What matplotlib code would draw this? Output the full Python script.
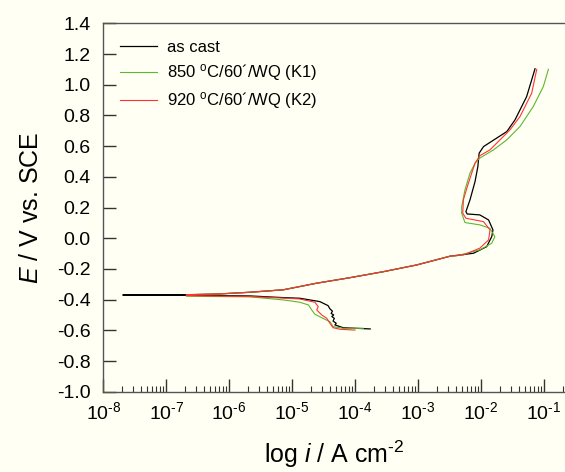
import numpy as np
import matplotlib
matplotlib.use("Agg")
import matplotlib.pyplot as plt
from matplotlib.ticker import LogLocator, NullFormatter, FixedLocator, FuncFormatter

plt.rcParams['font.family'] = ['Liberation Sans', 'DejaVu Sans']
plt.rcParams['mathtext.fontset'] = 'custom'
plt.rcParams['mathtext.rm'] = 'Liberation Sans'
plt.rcParams['mathtext.it'] = 'Liberation Sans:italic'

# log10(i / A cm-2) and E / V vs. SCE
common_anodic_log = [-6.68, -6.20, -5.67, -5.14, -4.61, -4.08, -3.55, -3.02, -2.49]
common_anodic_E = [-0.368, -0.364, -0.352, -0.336, -0.293, -0.257, -0.218, -0.174, -0.117]

cast_cath_log = [-3.76, -4.19, -4.32, -4.30, -4.35, -4.33, -4.37, -4.34, -4.38, -4.36,
                 -4.40, -4.43, -4.56, -4.88, -5.14, -5.67, -6.68, -7.69]
cast_cath_E = [-0.591, -0.583, -0.565, -0.554, -0.540, -0.522, -0.510, -0.500, -0.490, -0.475,
               -0.460, -0.439, -0.413, -0.391, -0.387, -0.376, -0.372, -0.370]
cast_an_log = [-2.12, -1.91, -1.83, -1.81, -1.88, -2.02, -2.22, -2.24, -2.175, -2.095,
               -2.05, -2.03, -1.96, -1.59, -1.46, -1.275, -1.142]
cast_an_E = [-0.098, -0.055, 0.010, 0.054, 0.119, 0.152, 0.158, 0.173, 0.250, 0.369,
             0.467, 0.554, 0.597, 0.695, 0.771, 0.923, 1.104]

k1_cath_log = [-3.87, -4.19, -4.35, -4.40, -4.51, -4.64, -4.69, -4.74, -4.88, -5.14, -5.67, -6.68]
k1_cath_E = [-0.587, -0.587, -0.576, -0.544, -0.522, -0.495, -0.467, -0.435, -0.417, -0.402,
             -0.382, -0.378]
k1_an_log = [-2.39, -2.02, -1.83, -1.78, -1.86, -2.02, -2.255, -2.307, -2.307, -2.255,
             -2.175, -2.095, -2.02, -1.80, -1.59, -1.38, -1.17, -1.01, -0.93]
k1_an_E = [-0.115, -0.076, -0.033, 0.010, 0.065, 0.087, 0.102, 0.163, 0.206, 0.315,
           0.424, 0.489, 0.522, 0.576, 0.641, 0.728, 0.858, 0.988, 1.100]

k2_cath_log = [-4.00, -4.03, -4.24, -4.35, -4.40, -4.45, -4.53, -4.61, -4.585, -4.64,
               -4.88, -5.14, -5.67, -6.68]
k2_cath_E = [-0.598, -0.598, -0.593, -0.583, -0.554, -0.522, -0.500, -0.467, -0.446, -0.417,
             -0.396, -0.390, -0.380, -0.374]
k2_an_log = [-2.28, -2.02, -1.88, -1.857, -1.96, -2.24, -2.29, -2.28, -2.218, -2.148,
             -2.095, -2.02, -1.857, -1.54, -1.38, -1.195, -1.115]
k2_an_E = [-0.109, -0.065, -0.011, 0.054, 0.108, 0.130, 0.163, 0.250, 0.336, 0.424,
           0.489, 0.537, 0.576, 0.706, 0.793, 0.945, 1.100]

labels = ['as cast', r'850 $^{\mathrm{o}}$C/60´/WQ (K1)', r'920 $^{\mathrm{o}}$C/60´/WQ (K2)']
colors = ['black', '#5cb82e', '#ff3333']

yticks = np.round(np.arange(-1.0, 1.41, 0.2), 1)
ytick_labels = [f'{abs(v):.1f}' if abs(v) < 1e-9 else f'{v:.1f}' for v in yticks]

fig = plt.figure(figsize=(5.65, 4.72), dpi=100)
bg = '#fffff3'
fig.patch.set_facecolor(bg)
ax = fig.add_axes([0.1828, 0.1701, 0.8172, 0.7805])
ax.set_facecolor(bg)

curves = [
    (cast_cath_log, cast_cath_E, cast_an_log, cast_an_E),
    (k1_cath_log, k1_cath_E, k1_an_log, k1_an_E),
    (k2_cath_log, k2_cath_E, k2_an_log, k2_an_E),
]
for (cl, ce, al, ae), lab, col in zip(curves, labels, colors):
    x = np.concatenate([cl, common_anodic_log, al])
    y = np.concatenate([ce, common_anodic_E, ae])
    ax.plot(10.0 ** x, y, color=col, lw=0.9 if col == 'black' else 0.8, label=lab)

ax.set_xscale('log')
ax.set_xlim(1e-8, 10 ** -0.666)
ax.set_ylim(-1.0, 1.4)
ax.xaxis.set_major_locator(LogLocator(base=10, numticks=20))
ax.xaxis.set_major_formatter(FuncFormatter(
    lambda v, p: r'$10^{\text{-%d}}$' % round(-np.log10(v))))
ax.xaxis.set_minor_locator(LogLocator(base=10, subs=np.arange(2, 10), numticks=20))
ax.xaxis.set_minor_formatter(NullFormatter())
ax.yaxis.set_major_locator(FixedLocator(yticks))
ax.set_yticklabels(ytick_labels)

ax.tick_params(axis='both', which='major', direction='in', length=9.5, width=1,
               labelsize=14, color='#333333')
ax.tick_params(axis='x', which='major', pad=7)
ax.tick_params(axis='y', which='major', pad=9)
ax.tick_params(axis='x', which='minor', direction='in', length=4.5, width=0.8, color='#333333')
ax.tick_params(axis='y', which='minor', left=False)

ax.spines['right'].set_visible(False)
for s in ['top', 'left', 'bottom']:
    ax.spines[s].set_color('#555555')
    ax.spines[s].set_linewidth(1.0)

ax.set_xlabel(r'log $\mathit{i}$ / A cm$^{\text{-2}}$', fontsize=18, labelpad=11)
ax.set_ylabel(r'$\mathit{E}$ / V vs. SCE', fontsize=18, labelpad=10)

ax.legend(loc='upper left', bbox_to_anchor=(0.0, 1.0), frameon=False, fontsize=12,
          handlelength=2.2, handletextpad=0.6, labelspacing=0.45, borderaxespad=0.6)

fig.savefig('out.png', dpi=100, facecolor=bg)
